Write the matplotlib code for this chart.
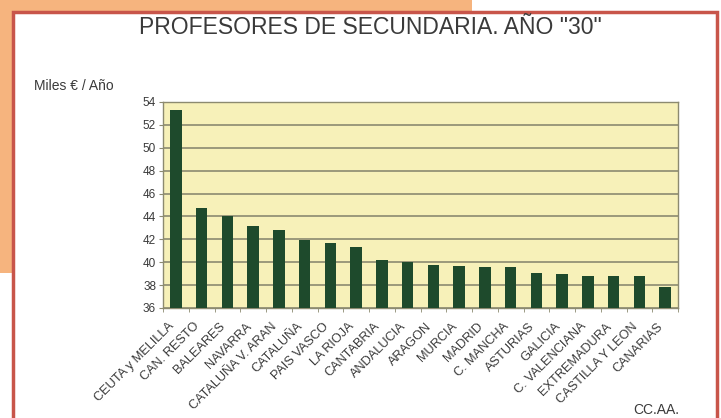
import numpy as np
import matplotlib
matplotlib.use('Agg')
import matplotlib.pyplot as plt
import matplotlib.transforms as mtransforms
from matplotlib.patches import Rectangle

plt.rcParams['font.family'] = ['Liberation Sans', 'DejaVu Sans']

regiones = ['CEUTA y MELILLA', 'CAN. RESTO', 'BALEARES', 'NAVARRA', 'CATALUÑA V. ARAN',
            'CATALUÑA', 'PAIS VASCO', 'LA RIOJA', 'CANTABRIA', 'ANDALUCIA', 'ARAGON',
            'MURCIA', 'MADRID', 'C. MANCHA', 'ASTURIAS', 'GALICIA', 'C. VALENCIANA',
            'EXTREMADURA', 'CASTILLA Y LEON', 'CANARIAS']
salarios = [53.3, 44.7, 44.0, 43.2, 42.8, 41.9, 41.7, 41.3, 40.2, 40.0,
            39.8, 39.7, 39.6, 39.6, 39.1, 39.0, 38.8, 38.8, 38.8, 37.8]
yticks = [36, 38, 40, 42, 44, 46, 48, 50, 52, 54]

W, H = 721, 418
txt = '#3A3A3A'
fig = plt.figure(figsize=(W / 100, H / 100), dpi=100)
fig.patch.set_facecolor('white')

# orange block behind the panel, then the white panel with red border
fig.patches.append(Rectangle((0, 1 - 273 / H), 472 / W, 273 / H, transform=fig.transFigure,
                             facecolor='#F6B47E', edgecolor='none', zorder=0))
fig.patches.append(Rectangle((13 / W, -0.05), (717 - 13) / W, 1.05 - 12 / H, transform=fig.transFigure,
                             facecolor='white', edgecolor='#C8554A', linewidth=2.5, zorder=1))

ax = fig.add_axes([163 / W, 1 - 308 / H, (678 - 163) / W, (308 - 102) / H])
ax.set_zorder(2)
ax.set_facecolor('#F7F1B9')

x = np.arange(len(regiones))
ax.bar(x, salarios, width=0.45, bottom=0, color='#1E4A2C', zorder=3)
ax.set_ylim(36, 54)
ax.set_xlim(-0.5, len(regiones) - 0.5)
ax.set_yticks(yticks)
ax.set_yticklabels([str(v) for v in yticks], fontsize=8.5, color=txt)
ax.yaxis.grid(True, color='#8C8A70', linewidth=1.2, zorder=1)
ax.set_axisbelow(True)

ax.set_xticks(x)
ax.set_xticklabels(regiones, rotation=45, ha='right', va='top', rotation_mode='anchor',
                   fontsize=9.2, color=txt)
ax.tick_params(axis='x', length=0, pad=9)
# labels end a little left of each bar
shift = mtransforms.ScaledTranslation(-8 / 100, 0, fig.dpi_scale_trans)
for lab in ax.get_xticklabels():
    lab.set_transform(lab.get_transform() + shift)
ax.set_xticks(np.arange(len(regiones) + 1) - 0.5, minor=True)
ax.tick_params(axis='x', which='minor', length=3, color='#8C8A70')
ax.tick_params(axis='y', length=3, color='#8C8A70', pad=2)
for s in ax.spines.values():
    s.set_color('#8C8A70')
    s.set_linewidth(1.0)

fig.text(370 / W, 1 - 27 / H, 'PROFESORES DE SECUNDARIA. AÑO "30"', ha='center', va='center',
         fontsize=16.5, color=txt, zorder=5)
fig.text(34 / W, 1 - 86 / H, 'Miles € / Año', ha='left', va='center', fontsize=10,
         color=txt, zorder=5)
fig.text(656 / W, 1 - 410 / H, 'CC.AA.', ha='center', va='center', fontsize=10,
         color=txt, zorder=5)

fig.savefig('out.png', dpi=100)
